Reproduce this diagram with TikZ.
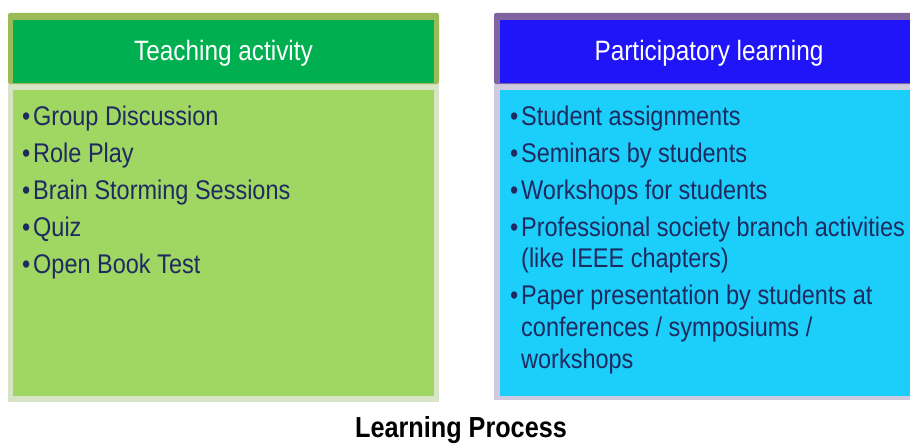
\documentclass[tikz,border=0pt]{standalone}
\usepackage{fontspec}
\newfontfamily\slidefont[FakeStretch=0.87]{Liberation Sans}
\usepackage{xcolor}
\usepackage{tikz}
\usetikzlibrary{positioning}

\definecolor{olivefrm}{HTML}{9BBB59}
\definecolor{headgreen}{HTML}{00B050}
\definecolor{bodygreen}{HTML}{A0D662}
\definecolor{greenrim}{HTML}{D8E4C6}
\definecolor{purplefrm}{HTML}{8064A2}
\definecolor{headblue}{HTML}{2014F8}
\definecolor{bodycyan}{HTML}{1CCFFA}
\definecolor{cyanrim}{HTML}{CECBE0}
\definecolor{itemnavy}{HTML}{1F2A60}

\newcommand{\itembullet}{\makebox[11pt][l]{\textbullet}}

\begin{document}
\begin{tikzpicture}[%px単位で指定
          x=1pt,y=-1pt,
          head/.style={
              text=white,
              inner sep=0pt,
              anchor=base,
              font=\slidefont\fontsize{28}{30}\selectfont
            },item/.style={
              text=itemnavy,
              inner sep=0pt,
              anchor=base west,
              font=\slidefont\fontsize{27}{31}\selectfont
            },caption/.style={
              text=black,
              inner sep=0pt,
              anchor=base,
              font=\slidefont\bfseries\fontsize{29}{32}\selectfont
            }
        ]
        \useasboundingbox (0,0) rectangle (910,444);

        % 左の箱 (Teaching activity)
        \fill[greenrim] (8,84) rectangle (439,402);
        \fill[bodygreen] (13,90) rectangle (434,396);
        \fill[olivefrm,rounded corners=2pt] (8,13) rectangle (439,84);
        \fill[headgreen] (13,20) rectangle (434,83);
        \node[head] (teach_head) at (223.5,61) {Teaching activity};

        \node[item] (teach_1) at (22,125) {\itembullet Group Discussion};
        \node[item] (teach_2) at (22,162) {\itembullet Role Play};
        \node[item] (teach_3) at (22,199) {\itembullet Brain Storming Sessions};
        \node[item] (teach_4) at (22,236) {\itembullet Quiz};
        \node[item] (teach_5) at (22,273) {\itembullet Open Book Test};

        % 右の箱 (Participatory learning)
        \fill[cyanrim] (494,84) rectangle (910,400);
        \fill[bodycyan] (500,90) rectangle (910,396);
        \fill[purplefrm,rounded corners=2pt] (494,13) rectangle (915,84);
        \fill[headblue] (500,20) rectangle (910,83);
        \node[head] (part_head) at (709,61) {Participatory learning};

        \node[item] (part_1) at (510,125) {\itembullet Student assignments};
        \node[item] (part_2) at (510,162) {\itembullet Seminars by students};
        \node[item] (part_3) at (510,199) {\itembullet Workshops for students};
        \node[item] (part_4) at (510,236) {\itembullet Professional society branch activities};
        \node[item] (part_4b) at (521,267) {(like IEEE chapters)};
        \node[item] (part_5) at (510,304) {\itembullet Paper presentation by students at};
        \node[item] (part_5b) at (521,336) {conferences / symposiums /};
        \node[item] (part_5c) at (521,368) {workshops};

        % 見出し
        \node[caption] (title) at (461,437) {Learning Process};

      \end{tikzpicture}
\end{document}
